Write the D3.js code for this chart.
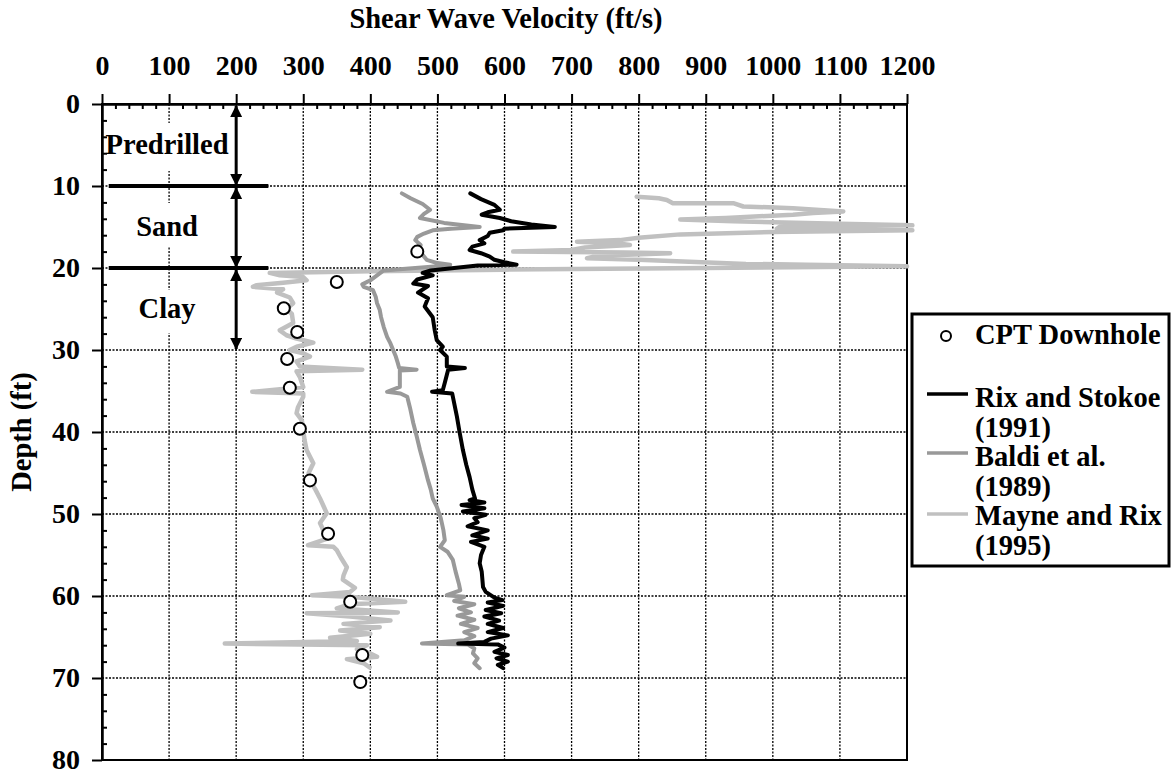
<!DOCTYPE html>
<html lang="en">
<head>
<meta charset="utf-8">
<title>Shear wave velocity profile</title>
<script src="https://d3js.org/d3.v7.min.js"></script>
<style>
  body { margin: 0; background: #fff; }
  text { font-family: "Liberation Serif", "Times New Roman", serif; font-weight: bold; fill: #000; font-size: 28.5px; }
  .axis text { font-size: 28px; }
  .axis path, .axis line { stroke: #000; stroke-width: 2; }
  .grid line { stroke: #000; stroke-width: 1.3; stroke-dasharray: 2,1.5; }
</style>
</head>
<body>
<script>
// tick values
var xTicks = [0, 100, 200, 300, 400, 500, 600, 700, 800, 900, 1000, 1100, 1200];
var yTicks = [0, 10, 20, 30, 40, 50, 60, 70, 80];

// CPT downhole measurements [depth ft, Vs ft/s]
var cptDownhole = [[18.0, 470], [21.7, 350], [24.9, 271], [27.8, 291], [31.1, 276], [34.6, 280],
  [39.6, 295], [45.9, 310], [52.4, 337], [60.7, 370], [67.2, 388], [70.5, 385]];

// Rix and Stokoe (1991)
var rixStokoe = [[10.9, 549], [11.6, 565], [12.3, 585], [12.9, 593], [13.2, 575], [13.5, 566], [13.9, 593],
  [14.3, 610], [14.7, 640], [15.0, 675], [15.1, 640], [15.2, 600], [15.4, 598], [15.7, 578], [16.1, 575],
  [16.6, 563], [17.0, 570], [17.4, 552], [17.8, 548], [18.2, 565], [18.6, 578], [19.0, 585], [19.3, 600],
  [19.6, 618], [19.7, 560], [20.3, 490], [20.6, 478], [20.9, 493], [21.4, 470], [21.9, 464], [22.2, 486],
  [23.0, 471], [23.7, 486], [24.7, 481], [26.0, 493], [27.6, 496], [28.8, 499], [29.6, 508], [30.0, 504],
  [30.8, 514], [32.0, 514], [32.2, 541], [32.4, 516], [34.0, 511], [34.9, 508], [35.1, 492], [35.3, 522],
  [38.1, 529], [40.0, 533], [42.2, 538], [44.0, 543], [45.5, 548], [47.0, 552], [48.1, 556], [48.3, 548],
  [48.6, 570], [48.9, 536], [49.3, 570], [49.7, 538], [50.1, 572], [50.5, 555], [51.0, 560], [51.5, 545],
  [52.0, 575], [52.6, 552], [53.0, 575], [53.4, 550], [54.0, 570], [55.0, 565], [56.0, 563], [57.0, 566],
  [58.9, 568], [59.5, 572], [60.2, 585], [60.5, 597], [60.8, 575], [61.2, 598], [61.7, 572], [62.1, 595],
  [62.5, 570], [63.0, 592], [63.4, 575], [63.9, 598], [64.4, 575], [64.8, 605], [65.2, 580], [65.6, 570],
  [65.8, 531], [65.9, 590], [66.3, 600], [66.8, 585], [67.2, 605], [67.6, 588], [68.0, 605], [68.4, 590],
  [68.8, 598]];

// Baldi et al. (1989)
var baldi = [[10.9, 447], [11.5, 460], [12.2, 478], [12.9, 489], [13.4, 480], [13.9, 474], [14.5, 510],
  [15.0, 563], [15.2, 520], [15.4, 493], [15.8, 480], [16.2, 470], [16.6, 467], [17.2, 475], [17.8, 471],
  [18.4, 478], [19.0, 484], [19.4, 500], [19.6, 519], [19.8, 500], [20.3, 420], [20.9, 410], [21.5, 400],
  [22.0, 388], [22.3, 390], [22.7, 404], [23.5, 408], [24.3, 410], [25.1, 414], [26.0, 416], [27.2, 420],
  [28.4, 425], [29.2, 430], [30.0, 434], [30.8, 438], [31.6, 441], [32.2, 443], [32.4, 469], [32.5, 444],
  [33.3, 444], [34.5, 444], [35.1, 425], [35.3, 445], [35.7, 455], [37.0, 459], [38.9, 464], [40.5, 469],
  [42.2, 474], [44.0, 480], [45.9, 486], [47.0, 490], [48.1, 493], [49.1, 499], [50.5, 505], [52.0, 509],
  [53.2, 511], [54.0, 504], [54.6, 515], [55.6, 523], [57.0, 527], [58.5, 532], [59.3, 534], [59.9, 514],
  [60.1, 540], [60.6, 525], [61.0, 555], [61.5, 532], [62.0, 550], [62.4, 530], [62.9, 555], [63.4, 535],
  [63.9, 560], [64.4, 540], [64.9, 555], [65.4, 540], [65.8, 477], [65.9, 545], [66.4, 555], [67.0, 553],
  [67.6, 560], [68.2, 555], [68.8, 563]];

// Mayne and Rix (1995)
var mayneRix = [[11.3, 797], [11.5, 830], [11.7, 842], [12.1, 851], [12.1, 941], [12.5, 956], [12.7, 1030],
  [13.1, 1105], [13.3, 1060], [13.5, 1030], [13.9, 930], [14.1, 862], [14.3, 941], [14.6, 1100], [14.8, 1208],
  [15.0, 1010], [15.2, 1006], [15.4, 1208], [15.6, 1000], [15.9, 862], [16.3, 800], [16.6, 772], [16.8, 708],
  [17.0, 770], [17.2, 787], [17.5, 720], [17.8, 700], [18.0, 613], [18.1, 780], [18.2, 847], [18.5, 740],
  [18.8, 723], [19.0, 800], [19.2, 866], [19.5, 960], [19.6, 1051], [19.8, 1200], [20.0, 900], [20.2, 600],
  [20.4, 400], [20.6, 250], [20.9, 265], [21.1, 300], [21.5, 305], [21.8, 270], [22.1, 230], [22.3, 225],
  [22.6, 270], [23.0, 261], [23.6, 280], [24.3, 285], [25.0, 275], [25.6, 283], [26.7, 285], [27.6, 265],
  [28.2, 275], [28.6, 290], [29.1, 315], [29.6, 290], [30.0, 280], [30.4, 300], [30.8, 310], [31.4, 290],
  [32.0, 295], [32.4, 388], [32.6, 290], [33.3, 295], [34.5, 300], [35.1, 224], [35.3, 300], [35.7, 300],
  [37.0, 292], [37.7, 290], [38.6, 298], [39.8, 300], [41.0, 302], [42.2, 305], [43.8, 315], [45.0, 308],
  [45.9, 310], [47.0, 318], [48.1, 325], [49.0, 330], [49.9, 335], [51.1, 325], [52.0, 330], [53.0, 336],
  [53.8, 307], [54.0, 345], [54.4, 350], [55.3, 356], [56.5, 365], [57.5, 360], [58.0, 359], [59.0, 377],
  [59.5, 370], [59.9, 313], [60.1, 370], [60.7, 452], [61.0, 370], [61.5, 350], [62.0, 441], [62.1, 305],
  [62.5, 370], [63.0, 430], [63.4, 360], [63.8, 414], [64.2, 355], [64.6, 400], [65.1, 340], [65.5, 380],
  [65.8, 183], [66.0, 395], [66.5, 380], [67.0, 400], [67.4, 410], [67.7, 365], [68.2, 390], [68.7, 399]];

// soil layers: [top, bottom, label]
var layers = [[0, 10, "Predrilled"], [10, 20, "Sand"], [20, 30, "Clay"]];

var W = 1172, H = 774;
var pLeft = 102, pRight = 907, pTop = 104, pBottom = 760;

var svg = d3.select("body").append("svg").attr("width", W).attr("height", H);

var x = d3.scaleLinear().domain([0, 1200]).range([pLeft, pRight]);
var y = d3.scaleLinear().domain([0, 80]).range([pTop, pBottom]);

// grid
var grid = svg.append("g").attr("class", "grid");
grid.selectAll("line.v").data(xTicks.slice(1, -1)).enter().append("line")
  .attr("x1", d => x(d)).attr("x2", d => x(d)).attr("y1", pTop).attr("y2", pBottom);
grid.selectAll("line.h").data(yTicks.slice(1, -1)).enter().append("line")
  .attr("y1", d => y(d)).attr("y2", d => y(d)).attr("x1", pLeft).attr("x2", pRight);

// white boxes behind layer labels
var boxes = [[103, 123, 127, 48], [130, 203, 75, 44], [135, 290, 65, 43]];
svg.selectAll("rect.lbl").data(boxes).enter().append("rect")
  .attr("x", d => d[0]).attr("y", d => d[1]).attr("width", d => d[2]).attr("height", d => d[3])
  .attr("fill", "#fff");

// axes
svg.append("g").attr("class", "axis").attr("transform", "translate(0," + pTop + ")")
  .call(d3.axisTop(x).tickValues(xTicks).tickFormat(d3.format("d")).tickSize(10).tickSizeOuter(0).tickPadding(19));
svg.append("g").attr("class", "axis").attr("transform", "translate(0," + pTop + ")")
  .call(d3.axisBottom(x).tickValues(d3.range(20, 1200, 20).filter(d => d % 100)).tickSize(5).tickSizeOuter(0).tickFormat(""));
svg.append("g").attr("class", "axis").attr("transform", "translate(" + pLeft + ",0)")
  .call(d3.axisLeft(y).tickValues(yTicks).tickSize(10).tickSizeOuter(0).tickPadding(12));
svg.append("g").attr("class", "axis").attr("transform", "translate(" + pLeft + ",0)")
  .call(d3.axisRight(y).tickValues(d3.range(2, 80, 2).filter(d => d % 10)).tickSize(5).tickSizeOuter(0).tickFormat(""));
svg.append("rect").attr("x", pLeft).attr("y", pTop).attr("width", pRight - pLeft).attr("height", pBottom - pTop)
  .attr("fill", "none").attr("stroke", "#000").attr("stroke-width", 2);

// axis titles
svg.append("text").attr("x", 506).attr("y", 28).attr("text-anchor", "middle")
  .text("Shear Wave Velocity (ft/s)");
svg.append("text").attr("transform", "translate(31," + ((pTop + pBottom) / 2) + ") rotate(-90)")
  .attr("text-anchor", "middle").text("Depth (ft)");

// layer boundaries
svg.selectAll("line.bnd").data([10, 20]).enter().append("line")
  .attr("x1", x(10)).attr("x2", x(248)).attr("y1", d => y(d)).attr("y2", d => y(d))
  .attr("stroke", "#000").attr("stroke-width", 4);

// double arrows
var defs = svg.append("defs");
defs.append("marker").attr("id", "ah").attr("viewBox", "0 0 12 12").attr("refX", 11).attr("refY", 6)
  .attr("markerWidth", 12).attr("markerHeight", 12).attr("markerUnits", "userSpaceOnUse").attr("orient", "auto-start-reverse")
  .append("path").attr("d", "M0,0 L12,6 L0,12 Z").attr("fill", "#000");
svg.selectAll("line.arr").data(layers).enter().append("line")
  .attr("x1", x(200)).attr("x2", x(200)).attr("y1", d => y(d[0]) + 2).attr("y2", d => y(d[1]) - 1)
  .attr("stroke", "#000").attr("stroke-width", 3)
  .attr("marker-start", "url(#ah)").attr("marker-end", "url(#ah)");

svg.selectAll("text.layer").data(layers).enter().append("text")
  .attr("x", x(97)).attr("y", d => y((d[0] + d[1]) / 2) + 9).attr("text-anchor", "middle")
  .text(d => d[2]);

// profiles
var line = d3.line().x(d => x(d[1])).y(d => y(d[0]));
var series = [
  { data: mayneRix, color: "#c0c0c0", w: 4.5 },
  { data: baldi, color: "#999999", w: 4 },
  { data: rixStokoe, color: "#000000", w: 4 }
];
svg.selectAll("path.prof").data(series).enter().append("path")
  .attr("d", d => line(d.data)).attr("fill", "none")
  .attr("stroke", d => d.color).attr("stroke-width", d => d.w)
  .attr("stroke-linejoin", "round").attr("stroke-linecap", "round");

svg.selectAll("circle.cpt").data(cptDownhole).enter().append("circle")
  .attr("cx", d => x(d[1])).attr("cy", d => y(d[0])).attr("r", 6)
  .attr("fill", "#fff").attr("stroke", "#000").attr("stroke-width", 2);

// legend
var lg = svg.append("g");
lg.append("rect").attr("x", 912).attr("y", 314).attr("width", 257).attr("height", 252)
  .attr("fill", "#fff").attr("stroke", "#000").attr("stroke-width", 3);
lg.append("circle").attr("cx", 946).attr("cy", 336).attr("r", 5)
  .attr("fill", "#fff").attr("stroke", "#000").attr("stroke-width", 2);
var legendLines = [
  { y: 394, color: "#000000", t: ["Rix and Stokoe", "(1991)"], ty: 407 },
  { y: 453, color: "#999999", t: ["Baldi et al.", "(1989)"], ty: 466 },
  { y: 514, color: "#c0c0c0", t: ["Mayne and Rix", "(1995)"], ty: 525 }
];
lg.append("text").attr("x", 975).attr("y", 344).text("CPT Downhole");
legendLines.forEach(function (l) {
  lg.append("line").attr("x1", 927).attr("x2", 968).attr("y1", l.y).attr("y2", l.y)
    .attr("stroke", l.color).attr("stroke-width", 3.5);
  l.t.forEach(function (s, i) {
    lg.append("text").attr("x", 975).attr("y", l.ty + i * 29.5).text(s);
  });
});
</script>
</body>
</html>
